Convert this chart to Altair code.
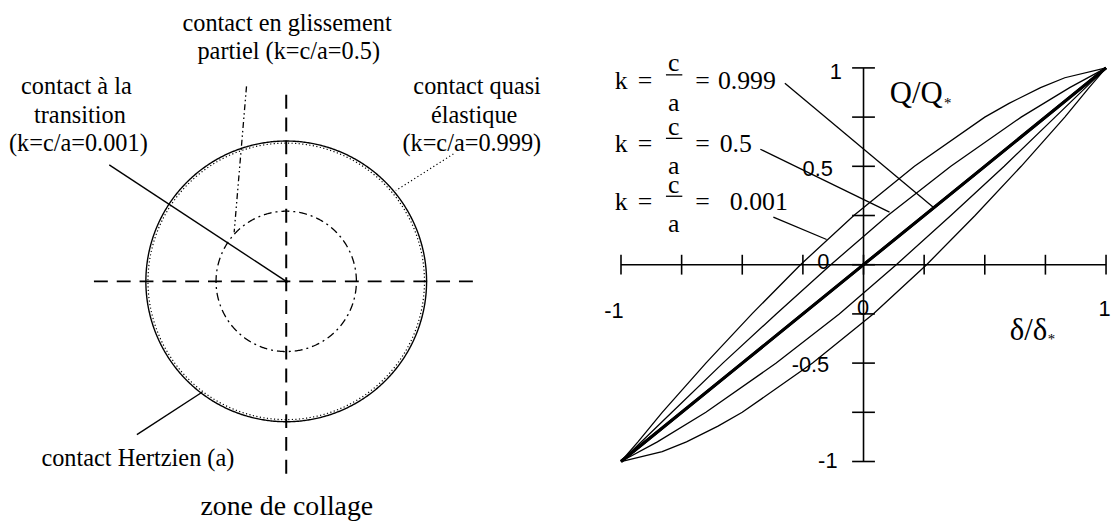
import numpy as np
import pandas as pd
import altair as alt

SERIF = "Liberation Serif, Times New Roman, serif"
SANS = "Liberation Sans, Arial, sans-serif"

# ------------------------------------------------------------------
# Right panel data: hysteresis loops Q/Q* vs delta/delta*
# ------------------------------------------------------------------
k_labels = ["0.001", "0.5", "0.999"]

delta_load_k0001 = [-1.0, -0.93, -0.83, -0.65, -0.46, -0.26, -0.04, 0.21, 0.50, 0.60, 0.73, 0.83, 1.0]
q_load_k0001 = [-1.0, -0.90, -0.75, -0.50, -0.25, 0.00, 0.25, 0.50, 0.75, 0.82, 0.90, 0.95, 1.0]
delta_unload_k0001 = [1.0, 0.93, 0.83, 0.65, 0.46, 0.26, 0.04, -0.21, -0.50, -0.60, -0.73, -0.83, -1.0]
q_unload_k0001 = [1.0, 0.90, 0.75, 0.50, 0.25, 0.00, -0.25, -0.50, -0.75, -0.82, -0.90, -0.95, -1.0]

delta_load_k05 = [-1.0, -0.79, -0.58, -0.36, -0.135, 0.10, 0.36, 0.65, 0.85, 1.0]
q_load_k05 = [-1.0, -0.75, -0.50, -0.25, 0.00, 0.25, 0.50, 0.75, 0.90, 1.0]
delta_unload_k05 = [1.0, 0.79, 0.58, 0.36, 0.135, -0.10, -0.36, -0.65, -0.85, -1.0]
q_unload_k05 = [1.0, 0.75, 0.50, 0.25, 0.00, -0.25, -0.50, -0.75, -0.90, -1.0]

delta_k0999 = [-1.0, -0.5, 0.0, 0.5, 1.0]
q_k0999 = [-1.0, -0.5, 0.0, 0.5, 1.0]

axis_ticks = [-1.0, -0.75, -0.5, -0.25, 0.0, 0.25, 0.5, 0.75, 1.0]
y_tick_labels = ["1", "0.5", "0", "-0.5", "-1"]
x_tick_labels = ["-1", "0", "1"]

# ------------------------------------------------------------------
# Left panel data: contact areas (radii relative to Hertz radius a)
# ------------------------------------------------------------------
circle_names = ["hertz", "quasi", "stick"]
circle_radii = [1.0, 0.985, 0.5]

# ------------------------------------------------------------------
# Build tables
# ------------------------------------------------------------------
def branch(name, xs, ys, group):
    return pd.DataFrame({"d": xs, "q": ys, "branch": name, "grp": group, "i": range(len(xs))})

curves = pd.concat([
    branch("k0001_load", delta_load_k0001, q_load_k0001, "thin"),
    branch("k0001_unload", delta_unload_k0001, q_unload_k0001, "thin"),
    branch("k05_load", delta_load_k05, q_load_k05, "thin"),
    branch("k05_unload", delta_unload_k05, q_unload_k05, "thin"),
    branch("k0999_load", delta_k0999, q_k0999, "thick"),
    branch("k0999_unload", list(reversed(delta_k0999)), list(reversed(q_k0999)), "thick"),
])

theta = np.linspace(0, 2 * np.pi, 721)
circ = pd.concat([
    pd.DataFrame({"x": r * np.cos(theta), "y": r * np.sin(theta), "c": n, "i": range(len(theta))})
    for n, r in zip(circle_names, circle_radii)
])

# ---------------- left panel ----------------
LX = alt.Scale(domain=[-1.9823, 1.9753], nice=False, zero=False)
LY = alt.Scale(domain=[-1.6502, 1.9329], nice=False, zero=False)


def lx(f):
    return alt.X(f"{f}:Q", scale=LX, axis=None)


def ly(f):
    return alt.Y(f"{f}:Q", scale=LY, axis=None)


base_c = alt.Chart(circ)
outer = base_c.transform_filter(alt.datum.c == "hertz").mark_line(color="black", strokeWidth=1.4).encode(
    x=lx("x"), y=ly("y"), order="i:Q")
quasi = base_c.transform_filter(alt.datum.c == "quasi").mark_line(
    color="black", strokeWidth=1.2, strokeDash=[1.2, 2.4]).encode(x=lx("x"), y=ly("y"), order="i:Q")
stick = base_c.transform_filter(alt.datum.c == "stick").mark_line(
    color="black", strokeWidth=1.3, strokeDash=[8, 4, 2, 4]).encode(x=lx("x"), y=ly("y"), order="i:Q")

cross = pd.DataFrame({"x": [-1.37, 0.0], "x2": [1.37, 0.0], "y": [0.0, -1.37], "y2": [0.0, 1.37]})
cross_l = alt.Chart(cross).mark_rule(color="black", strokeWidth=2, strokeDash=[14, 9]).encode(
    x=lx("x"), x2="x2:Q", y=ly("y"), y2="y2:Q")

lead_left = pd.DataFrame({
    "x": [-1.261, -0.283, 1.191, -1.064],
    "y": [0.830, 1.389, 0.908, -1.092],
    "x2": [0.0, -0.371, 0.781, -0.597],
    "y2": [0.0, 0.350, 0.647, -0.788],
    "s": ["solid", "dashdot", "dot", "solid"],
})
lead_solid = alt.Chart(lead_left).transform_filter(alt.datum.s == "solid").mark_rule(
    color="black", strokeWidth=1.4).encode(x=lx("x"), y=ly("y"), x2="x2:Q", y2="y2:Q")
lead_dd = alt.Chart(lead_left).transform_filter(alt.datum.s == "dashdot").mark_rule(
    color="black", strokeWidth=1.3, strokeDash=[6, 3, 1.5, 3, 1.5, 3]).encode(
    x=lx("x"), y=ly("y"), x2="x2:Q", y2="y2:Q")
lead_dot = alt.Chart(lead_left).transform_filter(alt.datum.s == "dot").mark_rule(
    color="black", strokeWidth=1.2, strokeDash=[1.2, 2.6]).encode(
    x=lx("x"), y=ly("y"), x2="x2:Q", y2="y2:Q")

center_dot = alt.Chart(pd.DataFrame({"x": [0.0], "y": [0.0]})).mark_point(
    filled=True, color="black", size=10, opacity=1).encode(x=lx("x"), y=ly("y"))

left_text = pd.DataFrame({
    "x": [0.006, 0.018, -1.495, -1.470, -1.481, 1.360, 1.339, 1.322, -1.057],
    "y": [1.834, 1.636, 1.382, 1.180, 0.979, 1.382, 1.180, 0.979, -1.269],
    "t": ["contact en glissement", "partiel (k=c/a=0.5)", "contact à la", "transition",
          "(k=c/a=0.001)", "contact quasi", "élastique", "(k=c/a=0.999)", "contact Hertzien (a)"],
})
ltxt = alt.Chart(left_text).mark_text(font=SERIF, fontSize=24.5, align="center", color="black").encode(
    x=lx("x"), y=ly("y"), text="t:N")
zone = alt.Chart(pd.DataFrame({"x": [0.004], "y": [-1.608], "t": ["zone de collage"]})).mark_text(
    font=SERIF, fontSize=28, align="center", color="black").encode(x=lx("x"), y=ly("y"), text="t:N")

left = alt.layer(outer, quasi, stick, cross_l, lead_solid, lead_dd, lead_dot, center_dot, ltxt, zone).properties(
    width=560, height=507)

# ---------------- right panel ----------------
RX = alt.Scale(domain=[-1.2372, 1.0123], nice=False, zero=False)
RY = alt.Scale(domain=[-1.2616, 1.2938], nice=False, zero=False)


def rx(f):
    return alt.X(f"{f}:Q", scale=RX, axis=None)


def ry(f):
    return alt.Y(f"{f}:Q", scale=RY, axis=None)


thin = alt.Chart(curves).transform_filter(alt.datum.grp == "thin").mark_line(
    color="black", strokeWidth=1.3).encode(x=rx("d"), y=ry("q"), detail="branch:N", order="i:Q")
thick = alt.Chart(curves).transform_filter(alt.datum.grp == "thick").mark_line(
    color="black", strokeWidth=3).encode(x=rx("d"), y=ry("q"), detail="branch:N", order="i:Q")

axes_df = pd.DataFrame({"x": [min(axis_ticks), 0.0], "x2": [max(axis_ticks), 0.0],
                        "y": [0.0, min(axis_ticks)], "y2": [0.0, max(axis_ticks)]})
axes_r = alt.Chart(axes_df).mark_rule(color="black", strokeWidth=1.6).encode(
    x=rx("x"), x2="x2:Q", y=ry("y"), y2="y2:Q")

tick_df = pd.DataFrame({"t": axis_ticks, "zero": 0.0})
yticks = alt.Chart(tick_df).mark_tick(orient="horizontal", size=23, thickness=1.6, color="black", opacity=1).encode(
    x=rx("zero"), y=ry("t"))
xticks = alt.Chart(tick_df).mark_tick(orient="vertical", size=20, thickness=1.6, color="black", opacity=1).encode(
    x=rx("t"), y=ry("zero"))

tl_df = pd.DataFrame({
    "x": [-0.1145, -0.1890, -0.1656, -0.2188, -0.1472, -1.0286, -0.002, 0.9939],
    "y": [0.9814, 0.4874, 0.0111, -0.5106, -0.9970, -0.2334, -0.2182, -0.2233],
    "t": y_tick_labels + x_tick_labels,
})
tlabels = alt.Chart(tl_df).mark_text(font=SANS, fontSize=22, align="center", baseline="middle",
                                      color="black").encode(x=rx("x"), y=ry("y"), text="t:N")

titles = pd.DataFrame({"x": [0.1084, 0.6033], "y": [0.8654, -0.3392], "t": ["Q/Q", "δ/δ"]})
title_t = alt.Chart(titles).mark_text(font=SERIF, fontSize=31, align="left", color="black").encode(
    x=rx("x"), y=ry("y"), text="t:N")
stars = pd.DataFrame({"x": [0.3476, 0.7751], "y": [0.8226, -0.378], "t": ["*", "*"]})
star_t = alt.Chart(stars).mark_text(font=SERIF, fontSize=15, align="center", color="black").encode(
    x=rx("x"), y=ry("y"), text="t:N")

# k = c/a = value annotations
row_base = [0.9345, 0.6119, 0.3175]
row_c = [1.0227, 0.7001, 0.4057]
row_a = [0.8211, 0.5010, 0.2067]
row_bar = [0.9647, 0.6421, 0.3478]
row_val_x = [-0.6004, -0.5930, -0.5513]
row_vals = [k_labels[2], k_labels[1], k_labels[0]]

cen_rows = []
for b, c, a in zip(row_base, row_c, row_a):
    cen_rows += [{"x": -0.9996, "y": b, "t": "k"}, {"x": -0.9014, "y": b, "t": "="},
                 {"x": -0.7824, "y": c, "t": "c"}, {"x": -0.7824, "y": a, "t": "a"},
                 {"x": -0.6634, "y": b, "t": "="}]
cen_df = pd.DataFrame(cen_rows)
kcen = alt.Chart(cen_df).mark_text(font=SERIF, fontSize=26, align="center", color="black").encode(
    x=rx("x"), y=ry("y"), text="t:N")
val_df = pd.DataFrame({"x": row_val_x, "y": row_base, "t": row_vals})
kval = alt.Chart(val_df).mark_text(font=SERIF, fontSize=26, align="left", color="black").encode(
    x=rx("x"), y=ry("y"), text="t:N")
bar_df = pd.DataFrame({"x": [-0.8147] * 3, "x2": [-0.7472] * 3, "y": row_bar})
kbar = alt.Chart(bar_df).mark_rule(color="black", strokeWidth=1.3).encode(x=rx("x"), x2="x2:Q", y=ry("y"))

lead_r = pd.DataFrame({
    "x": [-0.3243, -0.4254, -0.3718],
    "y": [0.9224, 0.5867, 0.2419],
    "x2": [0.29, 0.1072, -0.1521],
    "y2": [0.29, 0.2671, 0.128],
})
lead_right = alt.Chart(lead_r).mark_rule(color="black", strokeWidth=1.3).encode(
    x=rx("x"), y=ry("y"), x2="x2:Q", y2="y2:Q")

right = alt.layer(thin, thick, axes_r, yticks, xticks, tlabels, title_t, star_t, kcen, kval, kbar,
                  lead_right).properties(width=550, height=507)

chart = alt.hconcat(left, right, spacing=0, bounds="flush").properties(
    padding=0
).configure_view(stroke=None)

chart.save("out.html", embed_options={"renderer": "svg", "actions": False})
